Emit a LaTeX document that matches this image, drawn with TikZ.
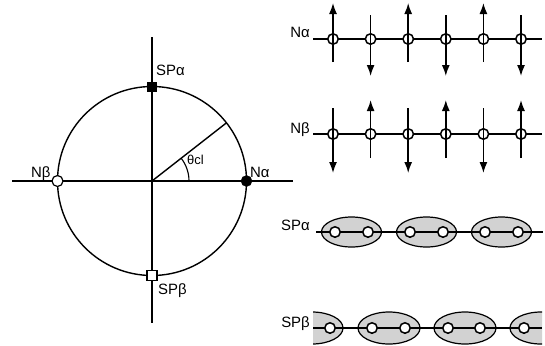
\documentclass[tikz,border=0pt]{standalone}
\usepackage{fontspec}
\setmainfont{Liberation Sans}
\usetikzlibrary{arrows.meta}
\begin{document}
\begin{tikzpicture}[x=1bp,y=-1bp,
  lbl/.style={font=\fontsize{15}{17}\selectfont, inner sep=0pt},
  ln/.style={line width=1.4bp},
  site/.style={circle, draw, fill=white, line width=1.5bp, minimum size=10.5bp, inner sep=0pt},
  spin/.style={line width=1.5bp, -{Latex[length=11bp,width=8bp]}},
  pairbox/.style={draw, line width=1.2bp, fill=gray!35},
  fsq/.style={rectangle, draw, fill=black, minimum size=9bp, inner sep=0pt},
  osq/.style={rectangle, draw, fill=white, line width=1.2bp, minimum size=10bp, inner sep=0pt},
  fdot/.style={circle, draw, fill=black, minimum size=11bp, inner sep=0pt},
  odot/.style={circle, draw, fill=white, line width=1.2bp, minimum size=11bp, inner sep=0pt}]
\useasboundingbox (0,0) rectangle (545,345);

% ---- left: circle diagram ----
\coordinate (O) at (152,181);
\coordinate (hl) at (12,181);
\coordinate (hr) at (293,181);
\coordinate (vt) at (152,37);
\coordinate (vb) at (152,323);
\coordinate (R) at (226.5,122.8);
\draw[ln] (O) circle[radius=94.5bp];
\draw[ln] (hl) -- (hr);
\draw[ln] (vt) -- (vb);
\draw[ln] (O) -- (R);
\draw[line width=1.1bp] (189,181) arc[start angle=0, end angle=38, radius=37bp];
\node[fsq] (spa) at (152,86.5) {};
\node[osq] (spb) at (152,275.5) {};
\node[odot] (nb) at (57.5,181) {};
\node[fdot] (na) at (246.5,181) {};
\node[lbl, anchor=base west] (spalbl) at (156,75) {SPα};
\node[lbl, anchor=base west] (spblbl) at (158,294) {SPβ};
\node[lbl, anchor=base west] (nblbl) at (31,177) {Nβ};
\node[lbl, anchor=base west] (nalbl) at (250,177) {Nα};
\node[lbl, anchor=base west, font=\fontsize{13}{15}\selectfont] (th) at (187,164) {θcl};

% ---- right: Nalpha row ----
\node[lbl, anchor=base east] (lna) at (310,37) {Nα};
\coordinate (na0) at (313,39);
\coordinate (na1) at (542,39);
\draw[ln] (na0) -- (na1);
\foreach \i in {0,...,5}{
  \pgfmathsetmacro{\xx}{333+37.6*\i}
  \node[site] (a\i) at (\xx,39) {};
}
\foreach \i in {0,2,4}{\draw[spin] ([yshift=-23bp]a\i.center) -- ([yshift=36bp]a\i.center);}
\foreach \i in {1,3,5}{\draw[spin] ([yshift=24bp]a\i.center) -- ([yshift=-37bp]a\i.center);}

% ---- right: Nbeta row ----
\node[lbl, anchor=base east] (lnb) at (310,133) {Nβ};
\coordinate (nb0) at (313,134);
\coordinate (nb1) at (542,134);
\draw[ln] (nb0) -- (nb1);
\foreach \i in {0,...,5}{
  \pgfmathsetmacro{\xx}{333+37.6*\i}
  \node[site] (b\i) at (\xx,134) {};
}
\foreach \i in {0,2,4}{\draw[spin] ([yshift=26bp]b\i.center) -- ([yshift=-39bp]b\i.center);}
\foreach \i in {1,3,5}{\draw[spin] ([yshift=-24bp]b\i.center) -- ([yshift=34bp]b\i.center);}

% ---- right: SPalpha row ----
\node[lbl, anchor=base east] (lspa) at (310,230) {SPα};
\foreach \c in {351.5,426.5,501.5}{
  \draw[pairbox] (\c,232) ellipse[x radius=30bp, y radius=15bp];
}
\coordinate (sa0) at (316,232);
\coordinate (sa1) at (543,232);
\draw[line width=1.8bp] (sa0) -- (sa1);
\foreach \x [count=\k] in {335,368,410,443,485,518}{
  \node[site] (c\k) at (\x,232) {};
}

% ---- right: SPbeta row ----
\node[lbl, anchor=base east] (lspb) at (310,327) {SPβ};
\begin{scope}
  \clip (313,300) rectangle (542,345);
  \foreach \c in {312,389,465,541}{
    \draw[pairbox] (\c,328) ellipse[x radius=31bp, y radius=16bp];
  }
\end{scope}
\coordinate (sb0) at (313,328);
\coordinate (sb1) at (542,328);
\draw[line width=1.6bp] (sb0) -- (sb1);
\foreach \x [count=\k] in {330,372,405,448,480,524}{
  \node[site] (d\k) at (\x,328) {};
}
\end{tikzpicture}
\end{document}
